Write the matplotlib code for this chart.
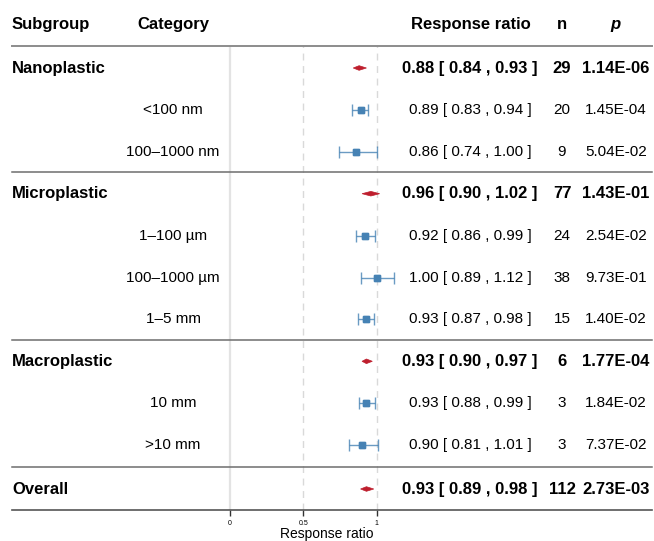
import matplotlib
matplotlib.use("Agg")
import matplotlib.pyplot as plt
from matplotlib.patches import Polygon
from matplotlib.transforms import blended_transform_factory

plt.rcParams['font.family'] = ['Liberation Sans', 'DejaVu Sans']

# ---- data ----
labels = ["Nanoplastic", "<100 nm", "100\u20131000 nm",
          "Microplastic", "1\u2013100 \u00b5m", "100\u20131000 \u00b5m", "1\u20135 mm",
          "Macroplastic", "10 mm", ">10 mm", "Overall"]
is_summary = [True, False, False, True, False, False, False, True, False, False, True]
est = [0.88, 0.89, 0.86, 0.96, 0.92, 1.00, 0.93, 0.93, 0.93, 0.90, 0.93]
lo = [0.84, 0.83, 0.74, 0.90, 0.86, 0.89, 0.87, 0.90, 0.88, 0.81, 0.89]
hi = [0.93, 0.94, 1.00, 1.02, 0.99, 1.12, 0.98, 0.97, 0.99, 1.01, 0.98]
n_vals = [29, 20, 9, 77, 24, 38, 15, 6, 3, 3, 112]
p_vals = ["1.14E-06", "1.45E-04", "5.04E-02", "1.43E-01", "2.54E-02", "9.73E-01",
          "1.40E-02", "1.77E-04", "1.84E-02", "7.37E-02", "2.73E-03"]
x_ticks = [0, 0.5, 1]
x_tick_labels = ["0", "0.5", "1"]

# ---- layout (pixel based) ----
W, H = 654, 541
fig = plt.figure(figsize=(W / 100, H / 100), dpi=100)
top_px, bot_px = 46, 510
ax = fig.add_axes([0, (H - bot_px) / H, 1, (bot_px - top_px) / H])
x0_px, unit_px = 230, 146.7
ax.set_xlim(-x0_px / unit_px, (W - x0_px) / unit_px)
ax.set_ylim(bot_px, top_px)

row_y = [68 + 41.9 * i for i in range(10)] + [489]
sep_y = [172, 340, 466.5]

red = "#BE1E2D"
blue = "#4682B4"
gridc = "#d9d9d9"
linec = "#6e6e6e"

# reference lines
ax.axvline(0, color="#e3e3e3", lw=1.6, zorder=0)
for xv in (0.5, 1.0):
    ax.axvline(xv, color=gridc, lw=1.0, ls=(0, (5, 4)), zorder=0)

# separators
for y in sep_y:
    ax.axhline(y, xmin=12 / W, xmax=652 / W, color=linec, lw=1.1, zorder=1)
ax.axhline(top_px, xmin=12 / W, xmax=652 / W, color="#8c8c8c", lw=1.4, zorder=1, clip_on=False)

# marks
for i in range(len(labels)):
    y = row_y[i]
    if is_summary[i]:
        h = 2.3
        poly = Polygon([(lo[i], y), (est[i], y - h), (hi[i], y), (est[i], y + h)],
                       closed=True, facecolor=red, edgecolor=red, lw=0.5, zorder=3)
        ax.add_patch(poly)
    else:
        ax.errorbar([est[i]], [y], xerr=[[est[i] - lo[i]], [hi[i] - est[i]]],
                    fmt="s", color=blue, ms=4.6, elinewidth=1.0, capsize=4.5,
                    capthick=1.0, ecolor=blue, alpha=0.8, zorder=3)
        ax.plot([est[i]], [y], "s", color=blue, ms=4.6, zorder=4)

# axis styling
for s in ("top", "left", "right"):
    ax.spines[s].set_visible(False)
ax.spines["bottom"].set_color("#555555")
ax.spines["bottom"].set_linewidth(1.2)
ax.spines["bottom"].set_bounds((12 - x0_px) / unit_px, (652 - x0_px) / unit_px)
ax.set_yticks([])
ax.set_xticks(x_ticks)
ax.set_xticklabels(x_tick_labels, fontsize=5)
ax.tick_params(axis="x", length=4, width=1, color="#333333", pad=3)
ax.set_xlabel("Response ratio", fontsize=10, labelpad=0)

# text columns
tr = blended_transform_factory(fig.transFigure, ax.transData)
hdr_y = 24
hkw = dict(transform=tr, fontsize=12, fontweight="bold", va="center", clip_on=False)
ax.text(12 / W, hdr_y, "Subgroup", ha="left", **hkw)
ax.text(173 / W, hdr_y, "Category", ha="center", **hkw)
ax.text(471 / W, hdr_y, "Response ratio", ha="center", **hkw)
ax.text(562 / W, hdr_y, "n", ha="center", **hkw)
ax.text(615 / W, hdr_y, "p", ha="center", style="italic", **hkw)

for i in range(len(labels)):
    y = row_y[i]
    ci = f"{est[i]:.2f} [ {lo[i]:.2f} , {hi[i]:.2f} ]"
    if is_summary[i]:
        kw = dict(transform=tr, fontsize=12, fontweight="bold", va="center")
        ax.text(12 / W, y, labels[i], ha="left", **kw)
    else:
        kw = dict(transform=tr, fontsize=11, va="center")
        ax.text(173 / W, y, labels[i], ha="center", **kw)
    ax.text(470 / W, y, ci, ha="center", **kw)
    ax.text(562 / W, y, str(n_vals[i]), ha="center", **kw)
    ax.text(616 / W, y, p_vals[i], ha="center", **kw)

fig.savefig("out.png", dpi=100, facecolor="white")
